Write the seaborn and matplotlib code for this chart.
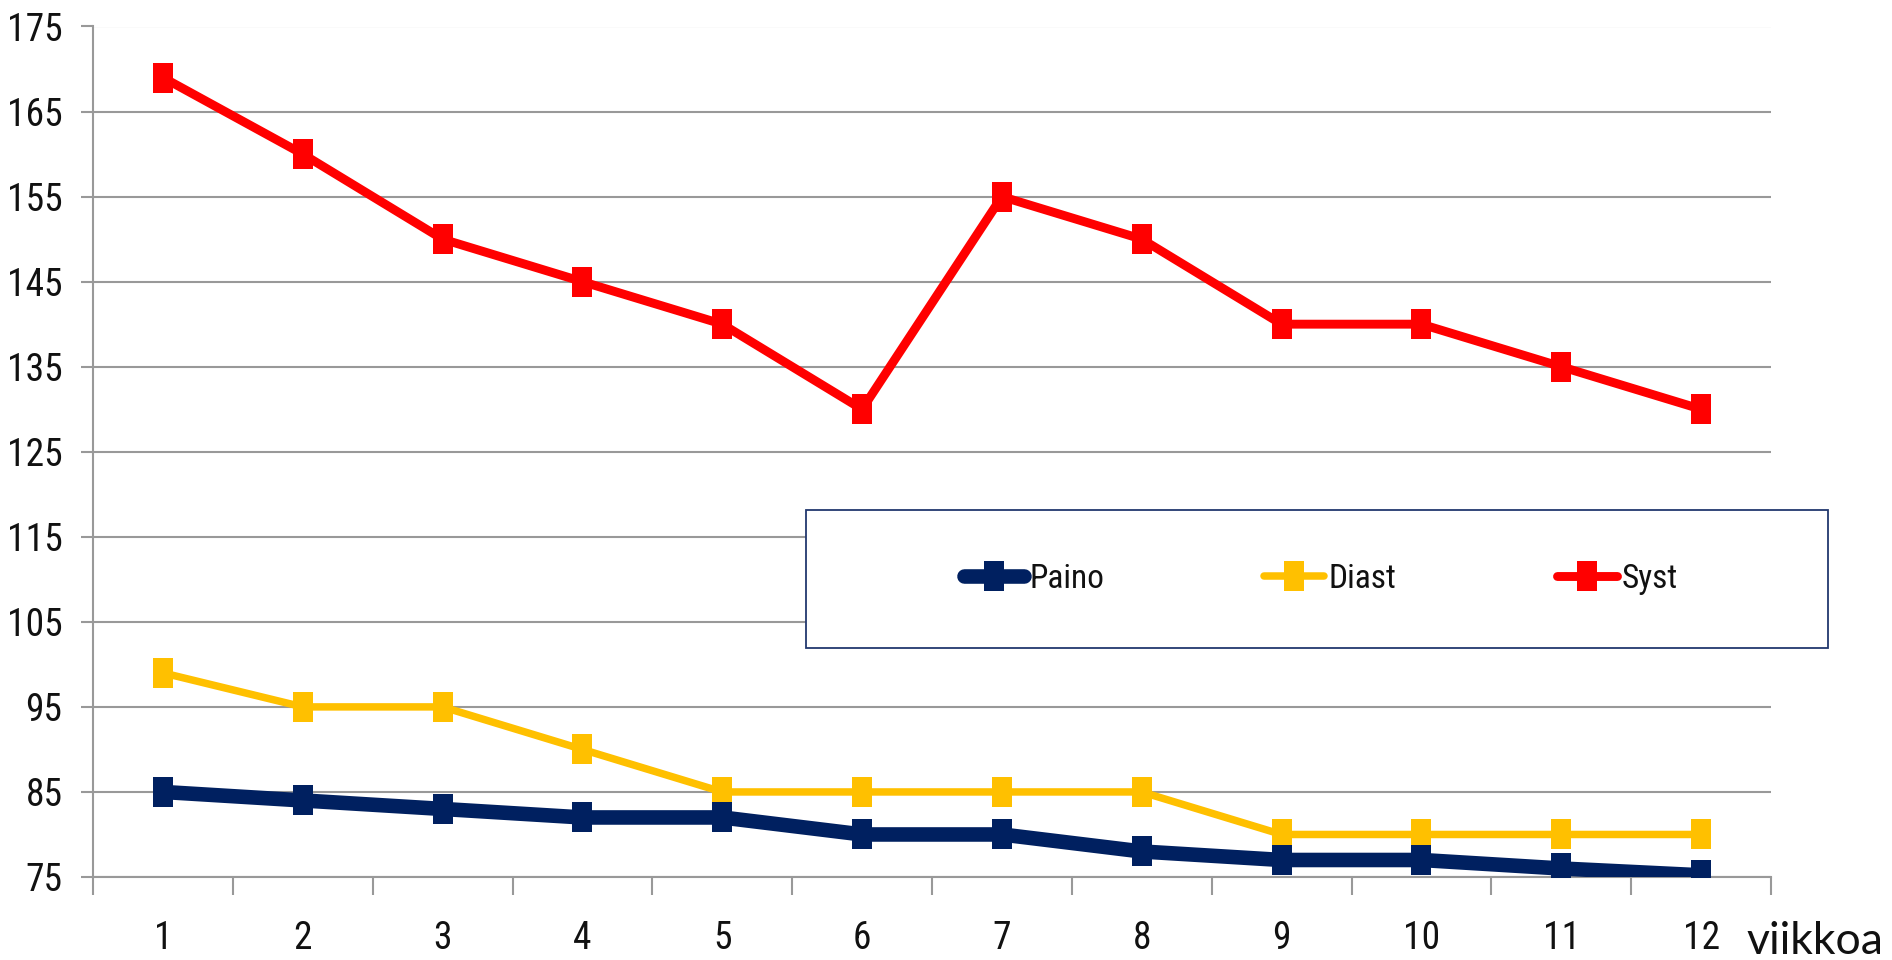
import matplotlib
matplotlib.use("Agg")
import matplotlib.pyplot as plt
from matplotlib import font_manager
from matplotlib.path import Path
from matplotlib.patches import Rectangle
import numpy as np
import pandas as pd
import seaborn as sns

# Weekly measurements
weeks = [1, 2, 3, 4, 5, 6, 7, 8, 9, 10, 11, 12]
paino = [85, 84, 83, 82, 82, 80, 80, 78, 77, 77, 76, 75.2]
diast = [99, 95, 95, 90, 85, 85, 85, 85, 80, 80, 80, 80]
syst = [169, 160, 150, 145, 140, 130, 155, 150, 140, 140, 135, 130]
series_names = ["Paino", "Diast", "Syst"]
y_ticks = [75, 85, 95, 105, 115, 125, 135, 145, 155, 165, 175]
x_label = "viikkoa"

colors = {"Paino": "#002060", "Diast": "#FFC000", "Syst": "#FF0000"}
widths = {"Paino": 10.5, "Diast": 5.4, "Syst": 6.4}
zorders = {"Paino": 5, "Diast": 3, "Syst": 4}


def pick_font(candidates):
    for name in candidates:
        try:
            font_manager.findfont(font_manager.FontProperties(family=name),
                                  fallback_to_default=False)
            return name
        except Exception:
            continue
    return "DejaVu Sans"


narrow = pick_font(["Liberation Sans Narrow", "Roboto Condensed",
                    "Open Sans Condensed", "Liberation Sans"])
plain = pick_font(["Lato", "Open Sans", "DejaVu Sans"])

sns.set_theme(style="white")
plt.rcParams["font.family"] = [narrow, "DejaVu Sans"]

df = pd.DataFrame({
    "week": weeks * 3,
    "value": paino + diast + syst,
    "series": [s for s in series_names for _ in weeks],
})

# tall rectangular marker
rect_marker = Path([(-0.34, -0.5), (0.34, -0.5), (0.34, 0.5), (-0.34, 0.5), (-0.34, -0.5)],
                   [Path.MOVETO, Path.LINETO, Path.LINETO, Path.LINETO, Path.CLOSEPOLY])

fig = plt.figure(figsize=(18.92, 9.6), dpi=100)
ax = fig.add_axes([93 / 1892, 1 - 877 / 960, (1771 - 93) / 1892, (877 - 26.5) / 960])

for name in series_names:
    sub = df[df["series"] == name]
    sns.lineplot(data=sub, x="week", y="value", ax=ax, color=colors[name],
                 linewidth=widths[name], marker=rect_marker, markersize=21,
                 markeredgewidth=0, label=name, zorder=zorders[name],
                 solid_joinstyle="round", solid_capstyle="round")

grid_color = "#999999"
ax.set_xlim(0.5, 12.5)
ax.set_ylim(75, 175)
ax.set_yticks(y_ticks)
ax.set_yticklabels([str(v) for v in y_ticks])
ax.set_xticks(weeks)
ax.set_xticklabels([str(w) for w in weeks])
ax.set_xticks(np.arange(0.5, 13, 1.0), minor=True)
ax.grid(axis="y", color=grid_color, linewidth=1.5)
ax.grid(axis="x", visible=False)
ax.set_axisbelow(True)
ax.set_xlabel("")
ax.set_ylabel("")
for side in ["top", "right"]:
    ax.spines[side].set_visible(False)
for side in ["left", "bottom"]:
    ax.spines[side].set_color(grid_color)
    ax.spines[side].set_linewidth(1.5)

ax.tick_params(axis="y", which="major", left=True, length=8.5, width=1.5,
               color=grid_color, pad=13.5, labelsize=27, labelcolor="#111111")
ax.tick_params(axis="x", which="major", bottom=True, length=0, pad=31,
               labelsize=27, labelcolor="#111111")
ax.tick_params(axis="x", which="minor", bottom=True, length=13, width=1.5,
               color=grid_color)

if ax.get_legend() is not None:
    ax.get_legend().remove()

# legend box
fig.patches.append(Rectangle((806 / 1892, 1 - 648 / 960), 1022 / 1892, 138 / 960,
                             transform=fig.transFigure, facecolor="white",
                             edgecolor="#22386E", linewidth=1.3, zorder=2))
handles, labels = ax.get_legend_handles_labels()
order = [labels.index(n) for n in series_names]
leg = fig.legend([handles[i] for i in order], [labels[i] for i in order],
                 loc="center", bbox_to_anchor=(1321 / 1892, 1 - 579 / 960),
                 ncol=3, frameon=False, fontsize=24, handlelength=1.8,
                 handletextpad=0.15, columnspacing=4.8)
leg.set_zorder(6)
for t in leg.get_texts():
    t.set_color("#111111")

fig.text(1746 / 1892, 1 - 954 / 960, x_label, ha="left", va="baseline",
         fontsize=32, color="#111111", family=[plain, "DejaVu Sans"])

fig.savefig("out.png", dpi=100, facecolor="white")
